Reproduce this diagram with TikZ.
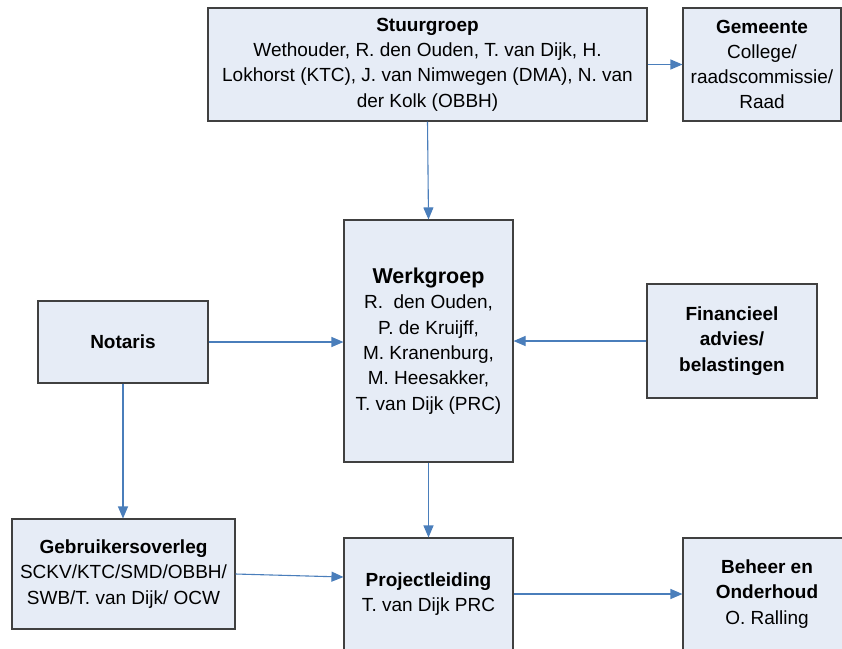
\documentclass[tikz,border=0pt]{standalone}
\usepackage{fontspec}
\setmainfont{Liberation Sans}
\usetikzlibrary{arrows.meta,positioning,calc}
\definecolor{boxfill}{RGB}{230,236,246}
\definecolor{boxline}{RGB}{64,64,64}
\definecolor{arrowcol}{RGB}{74,126,187}
\tikzset{
  orgbox/.style={draw=boxline, line width=1.1pt, fill=boxfill, rectangle, align=center, inner sep=2pt,
    font=\fontsize{19}{25.3}\selectfont},
  conn/.style={draw=arrowcol, line width=1.1pt, -{Triangle[length=12pt,width=10pt]}},
}
\begin{document}
\begin{tikzpicture}[x=1pt,y=-1pt]
\useasboundingbox (0,0) rectangle (842,648);
\clip (0,0) rectangle (842,648);
\fill[white] (0,0) rectangle (842,648);

\node[orgbox, minimum width=439pt, minimum height=113pt] (stuur) at (427.5,64.5)
  {\textbf{Stuurgroep}\\Wethouder, R. den Ouden, T. van Dijk, H.\\Lokhorst (KTC), J. van Nimwegen (DMA), N. van\\der Kolk (OBBH)};
\node[orgbox, minimum width=158pt, minimum height=113pt] (gem) at (762,64.5)
  {\textbf{Gemeente}\\College/\\raadscommissie/\\Raad};
\node[orgbox, minimum width=169pt, minimum height=242pt] (werk) at (428.5,341)
  {{\fontsize{21.5}{26}\selectfont\textbf{Werkgroep}}\\R.\ \ den Ouden,\\P. de Kruijff,\\M. Kranenburg,\\M. Heesakker,\\T. van Dijk (PRC)};
\node[orgbox, minimum width=170pt, minimum height=82pt] (notaris) at (123,342)
  {\textbf{Notaris}};
\node[orgbox, minimum width=170pt, minimum height=114pt] (fin) at (732,341)
  {\textbf{Financieel}\\\textbf{advies/}\\\textbf{belastingen}};
\node[orgbox, minimum width=223pt, minimum height=110pt] (gebr) at (123.5,574)
  {\textbf{Gebruikersoverleg}\\SCKV/KTC/SMD/OBBH/\\SWB/T. van Dijk/ OCW};
\node[orgbox, minimum width=169pt, minimum height=112pt] (proj) at (428.5,594)
  {\textbf{Projectleiding}\\T. van Dijk PRC};
\node[orgbox, minimum width=168pt, minimum height=112pt] (beheer) at (767,594)
  {\textbf{Beheer en}\\\textbf{Onderhoud}\\O. Ralling};

\draw[conn] (stuur.east) -- (gem.west);
\draw[conn] (stuur.south) -- (werk.north);
\draw[conn] (notaris.east) -- (notaris.east -| werk.west);
\draw[conn] (fin.west) -- (werk.east);
\draw[conn] (notaris.south) -- (notaris.south |- gebr.north);
\draw[conn] (werk.south) -- (proj.north);
\draw[conn] (gebr.east) -- ([yshift=17pt]proj.west);
\draw[conn] (proj.east) -- (beheer.west);
\end{tikzpicture}
\end{document}
